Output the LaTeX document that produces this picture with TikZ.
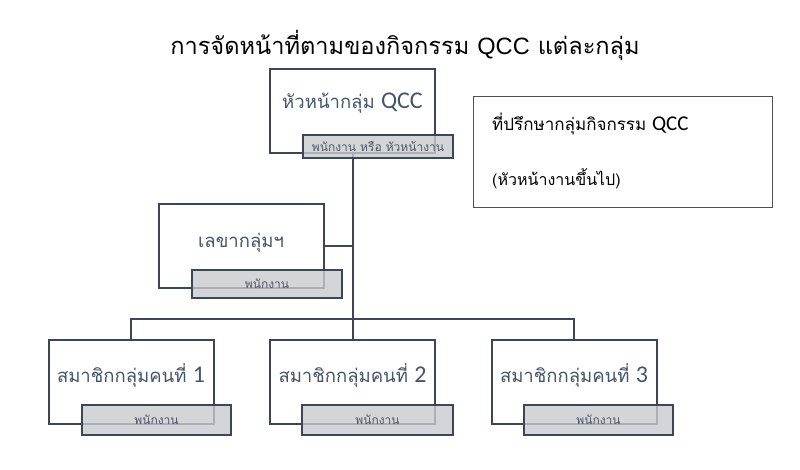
\documentclass[tikz,border=0pt]{standalone}
\usepackage{fontspec}
\newfontfamily\thai[Script=Thai]{Loma}
\newfontfamily\lat{Carlito}
\newfontfamily\tlat{Liberation Sans}
\definecolor{boxline}{HTML}{3B4657}
\definecolor{txt}{HTML}{44546A}
\definecolor{subtxt}{HTML}{50586A}
\definecolor{subfill}{HTML}{C9CBCE}
\definecolor{advline}{HTML}{505050}
\newcommand{\biglat}[1]{{\lat\fontsize{24}{26}\selectfont #1}}
\begin{document}
\begin{tikzpicture}[x=1pt,y=-1pt,
  rolebox/.style={draw=boxline, line width=2pt, fill=white, minimum width=165pt, minimum height=84pt, inner sep=0pt},
  subbox/.style={draw=boxline, line width=2pt, fill=subfill, fill opacity=0.8, text opacity=1, minimum width=150pt, minimum height=30pt, inner sep=0pt, font=\thai\fontsize{12}{14}\selectfont, text=subtxt},
  rolelabel/.style={font=\thai\fontsize{18.5}{20}\selectfont, text=txt, inner sep=0pt},
  advtext/.style={text=black, inner sep=0pt, anchor=west},
  wire/.style={draw=boxline, line width=2pt}]
\useasboundingbox (0,0) rectangle (800,469);
% title
\node[font=\thai\fontsize{23.6}{26}\selectfont, text=black, inner sep=0pt] (title) at (405,45)
  {การจัดหน้าที่ตามของกิจกรรม {\tlat QCC} แต่ละกลุ่ม};
% boxes
\node[rolebox] (top) at (352.5,111) {};
\node[rolebox] (sec) at (241,246) {};
\node[rolebox] (m1) at (131,382) {};
\node[rolebox] (m2) at (352.5,382) {};
\node[rolebox] (m3) at (574,382) {};
\coordinate (j) at (352.5,319);
% connectors
\draw[wire] (top.south) -- (j);
\draw[wire] (sec.east) -- (sec.east -| top.south);
\draw[wire] (m1.north) |- (m3.north |- j) -- (m3.north);
\draw[wire] (j) -- (m2.north);
% labels
\node[rolelabel] (toplbl) at (352.5,103) {หัวหน้ากลุ่ม \biglat{QCC}};
\node[rolelabel] (seclbl) at (241,243) {เลขากลุ่มฯ};
\node[rolelabel] (m1lbl) at (131,375) {สมาชิกกลุ่มคนที่ \biglat{1}};
\node[rolelabel] (m2lbl) at (352.5,375) {สมาชิกกลุ่มคนที่ \biglat{2}};
\node[rolelabel] (m3lbl) at (574,375) {สมาชิกกลุ่มคนที่ \biglat{3}};
% sub boxes
\node[subbox, minimum height=23pt] (topsub) at (378,146.5) {พนักงาน หรือ หัวหน้างาน};
\node[subbox, minimum height=28pt] (secsub) at (267,284) {พนักงาน};
\node[subbox, minimum width=149pt] (m1sub) at (156.5,420) {พนักงาน};
\node[subbox, minimum width=151pt] (m2sub) at (377.5,420) {พนักงาน};
\node[subbox, minimum width=149pt] (m3sub) at (598.5,420) {พนักงาน};
% advisor
\node[draw=advline, line width=1pt, minimum width=299pt, minimum height=111pt, inner sep=0pt] (adv) at (622.5,151.5) {};
\node[advtext, font=\thai\fontsize{17}{19}\selectfont] (adv1) at (492,124) {ที่ปรึกษากลุ่มกิจกรรม {\lat\fontsize{21}{23}\selectfont QCC}};
\node[advtext, font=\thai\fontsize{16}{18}\selectfont] (adv2) at (492,179) {(หัวหน้างานขึ้นไป)};
\end{tikzpicture}
\end{document}
